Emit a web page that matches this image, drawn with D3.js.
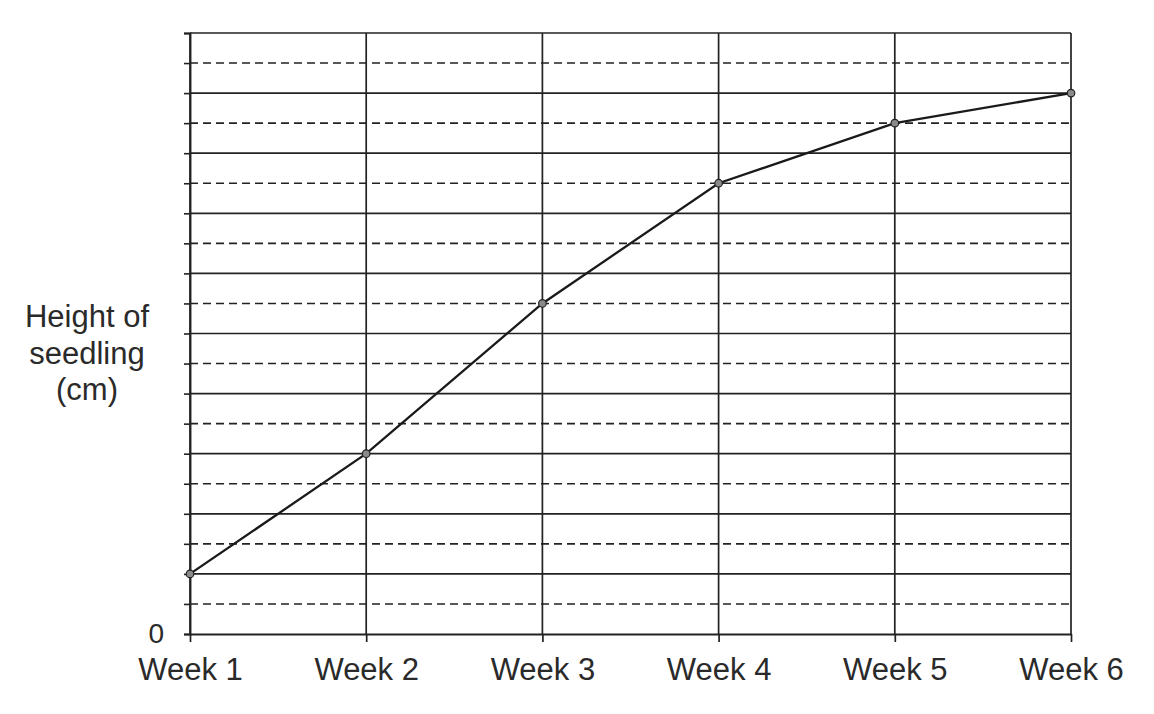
<html>
  <head>
    <script src="https://cdn.jsdelivr.net/npm/d3@7"></script>
    <style>
      body { margin: 0; background: #fff; }
      text { font-family: "Liberation Sans", Arial, sans-serif; fill: #2a2a2a; }
    </style>
  </head>
  <body>
    <script>
      // data (units = solid grid rows)
      const weeks = ["Week 1", "Week 2", "Week 3", "Week 4", "Week 5", "Week 6"];
      const heights = [1, 3, 5.5, 7.5, 8.5, 9];
      const yLabelLines = ["Height of", "seedling", "(cm)"];
      const yMax = 10;

      const width = 1154, height = 714;
      const margin = { top: 33, right: 83, bottom: 80, left: 190 };

      const svg = d3.select("body").append("svg")
          .attr("width", width)
          .attr("height", height);

      const x = d3.scalePoint()
          .domain(weeks)
          .range([margin.left, width - margin.right]);

      const y = d3.scaleLinear()
          .domain([0, yMax])
          .range([height - margin.bottom, margin.top]);

      const halfTicks = d3.range(0, yMax + 0.001, 0.5);

      // horizontal grid: solid on whole units, dashed on halves
      svg.append("g")
        .selectAll("line")
        .data(halfTicks.filter(d => d > 0))
        .join("line")
          .attr("x1", margin.left)
          .attr("x2", width - margin.right)
          .attr("y1", d => y(d))
          .attr("y2", d => y(d))
          .attr("stroke", "#222")
          .attr("stroke-width", d => d % 1 === 0 ? 1.7 : 1.6)
          .attr("stroke-dasharray", d => d % 1 === 0 ? null : "8,5");

      // vertical grid at each week
      svg.append("g")
        .selectAll("line")
        .data(weeks)
        .join("line")
          .attr("x1", d => x(d))
          .attr("x2", d => x(d))
          .attr("y1", y(yMax))
          .attr("y2", y(0))
          .attr("stroke", "#222")
          .attr("stroke-width", 1.7);

      // y axis: ticks every half unit, only 0 labelled
      const yAxis = svg.append("g")
          .attr("transform", `translate(${margin.left},0)`)
          .call(d3.axisLeft(y)
            .tickValues(halfTicks)
            .tickSize(6)
            .tickPadding(20)
            .tickFormat(d => d === 0 ? "0" : ""));
      yAxis.select(".domain").attr("stroke", "#222").attr("stroke-width", 1.9);
      yAxis.selectAll(".tick line").attr("stroke", "#222").attr("stroke-width", 1.6);
      yAxis.selectAll(".tick text")
          .style("font-size", "28px")
          .attr("fill", "#2a2a2a");

      // x axis
      const xAxis = svg.append("g")
          .attr("transform", `translate(0,${y(0)})`)
          .call(d3.axisBottom(x).tickSize(8).tickPadding(16).tickSizeOuter(0));
      xAxis.select(".domain").attr("stroke", "#222").attr("stroke-width", 1.9);
      xAxis.selectAll(".tick line").attr("stroke", "#222").attr("stroke-width", 1.7);
      xAxis.selectAll(".tick text")
          .style("font-size", "31px")
          .attr("fill", "#2a2a2a");

      // y axis title
      svg.append("text")
          .attr("x", 87)
          .attr("y", 327)
          .attr("text-anchor", "middle")
          .style("font-size", "31px")
        .selectAll("tspan")
        .data(yLabelLines)
        .join("tspan")
          .attr("x", 87)
          .attr("dy", (d, i) => i === 0 ? 0 : 36.5)
          .text(d => d);

      const points = weeks.map((w, i) => ({ week: w, value: heights[i] }));

      const line = d3.line()
          .x(d => x(d.week))
          .y(d => y(d.value));

      svg.append("path")
          .datum(points)
          .attr("fill", "none")
          .attr("stroke", "#1a1a1a")
          .attr("stroke-width", 2.3)
          .attr("d", line);

      svg.append("g")
        .selectAll("circle")
        .data(points)
        .join("circle")
          .attr("cx", d => x(d.week))
          .attr("cy", d => y(d.value))
          .attr("r", 3.8)
          .attr("fill", "#8a8a8a")
          .attr("stroke", "#222")
          .attr("stroke-width", 1.2);
    </script>
  </body>
</html>
